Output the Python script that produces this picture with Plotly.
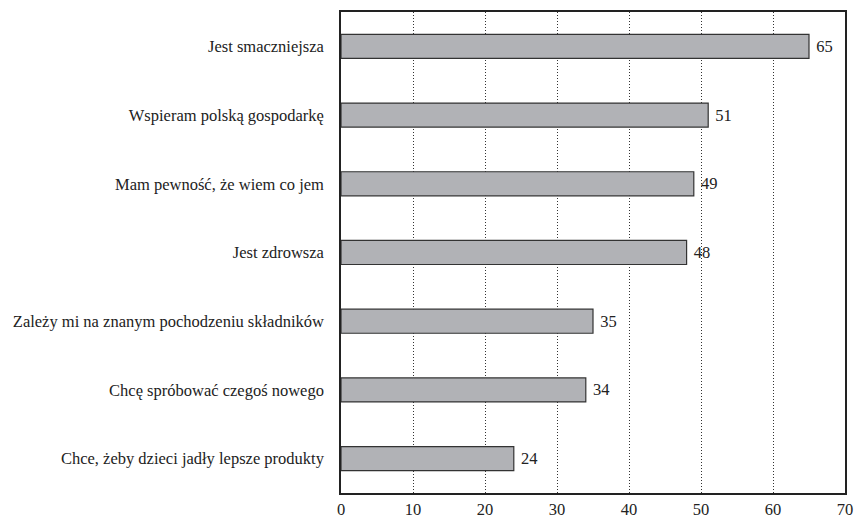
import plotly.graph_objects as go

categories = [
    "Chce, żeby dzieci jadły lepsze produkty",
    "Chcę spróbować czegoś nowego",
    "Zależy mi na znanym pochodzeniu składników",
    "Jest zdrowsza",
    "Mam pewność, że wiem co jem",
    "Wspieram polską gospodarkę",
    "Jest smaczniejsza",
]
values = [24, 34, 35, 48, 49, 51, 65]
x_ticks = [0, 10, 20, 30, 40, 50, 60, 70]

FONT = "Liberation Serif"
FS = 16.5

fig = go.Figure(
    go.Bar(
        x=values,
        y=categories,
        orientation="h",
        width=0.35,
        marker=dict(color="#b1b2b6", line=dict(color="#333333", width=1.2)),
        text=[str(v) for v in values],
        texttemplate=" %{text}",
        textposition="outside",
        textfont=dict(family=FONT, size=FS, color="#222222"),
        cliponaxis=False,
    )
)

fig.update_layout(
    width=867,
    height=521,
    margin=dict(l=341, r=22, t=12, b=28, autoexpand=False),
    paper_bgcolor="white",
    plot_bgcolor="white",
    showlegend=False,
    font=dict(family=FONT, size=FS, color="#222222"),
    bargap=0.65,
)
fig.update_xaxes(
    range=[0, 70],
    tickvals=x_ticks,
    ticktext=[str(t) for t in x_ticks],
    showgrid=True,
    gridcolor="#333333",
    griddash="1px,2px",
    gridwidth=1,
    showline=True,
    linecolor="#222222",
    linewidth=1.5,
    mirror=True,
    ticks="",
    ticklabelstandoff=0,
    automargin=False,
    zeroline=False,
    tickfont=dict(family=FONT, size=FS, color="#222222"),
)
fig.update_yaxes(
    showgrid=False,
    showline=True,
    linecolor="#222222",
    linewidth=1.5,
    mirror=True,
    ticks="",
    ticklabelstandoff=12,
    automargin=False,
    tickfont=dict(family=FONT, size=FS, color="#222222"),
)

fig.write_html("out.html")
